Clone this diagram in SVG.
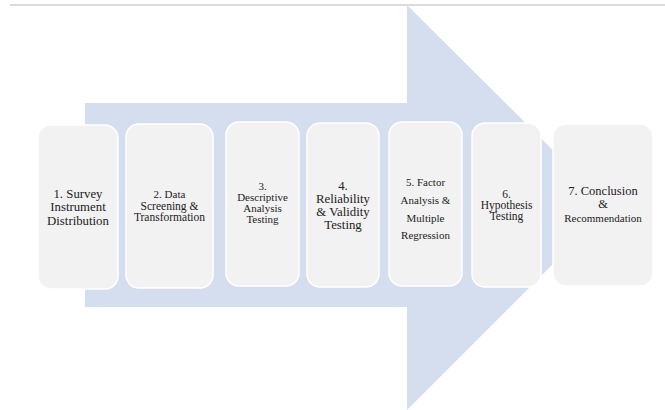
<svg xmlns="http://www.w3.org/2000/svg" width="665" height="410" viewBox="0 0 665 410">
  <style>
    .step { fill: #f2f2f2; stroke: #ffffff; stroke-width: 1.5; }
    .lbl { font-family: "Liberation Serif", "Times New Roman", serif; fill: #222222; text-anchor: middle; }
    .s13 { font-size: 12.8px; }
    .s12 { font-size: 12.5px; }
    .s11 { font-size: 11px; }
    .s115 { font-size: 11.5px; }
  </style>
  <rect width="665" height="410" fill="#ffffff"/>
  <!-- top rule -->
  <line x1="10" y1="5" x2="665" y2="5" stroke="#cfcfcf" stroke-width="1.5"/>
  <!-- big process arrow behind the steps -->
  <g id="connectors">
    <polygon points="85,103 407,103 407,5 610,207 407,410 407,307 85,307" fill="#d4deef"/>
  </g>
  <g id="step1">
    <rect class="step" x="38" y="125" width="80" height="164" rx="13"/>
    <text class="lbl s13" x="78" y="197.5">1. Survey</text>
    <text class="lbl s13" x="78" y="211">Instrument</text>
    <text class="lbl s13" x="78" y="224.5">Distribution</text>
  </g>
  <g id="step2">
    <rect class="step" x="126" y="124" width="87" height="164" rx="13"/>
    <text class="lbl s11" x="169.5" y="198">2. Data</text>
    <text class="lbl s115" x="169.5" y="210">Screening &amp;</text>
    <text class="lbl s115" x="169.5" y="221">Transformation</text>
  </g>
  <g id="step3">
    <rect class="step" x="226" y="122" width="73" height="164" rx="13"/>
    <text class="lbl s11" x="262.5" y="190">3.</text>
    <text class="lbl s11" x="262.5" y="201">Descriptive</text>
    <text class="lbl s11" x="262.5" y="212">Analysis</text>
    <text class="lbl s11" x="262.5" y="223">Testing</text>
  </g>
  <g id="step4">
    <rect class="step" x="307" y="123" width="72" height="164" rx="13"/>
    <text class="lbl s13" x="343" y="189.5">4.</text>
    <text class="lbl s13" x="343" y="202.5">Reliability</text>
    <text class="lbl s13" x="343" y="215.5">&amp; Validity</text>
    <text class="lbl s13" x="343" y="228.5">Testing</text>
  </g>
  <g id="step5">
    <rect class="step" x="389" y="122" width="73" height="164" rx="13"/>
    <text class="lbl s11" x="425.5" y="186">5. Factor</text>
    <text class="lbl s11" x="425.5" y="204">Analysis &amp;</text>
    <text class="lbl s11" x="425.5" y="222">Multiple</text>
    <text class="lbl s11" x="425.5" y="239">Regression</text>
  </g>
  <g id="step6">
    <rect class="step" x="472" y="123" width="69" height="164" rx="13"/>
    <text class="lbl s115" x="506.5" y="198">6.</text>
    <text class="lbl s115" x="506.5" y="209">Hypothesis</text>
    <text class="lbl s115" x="506.5" y="220">Testing</text>
  </g>
  <g id="step7">
    <rect class="step" x="553" y="124" width="100" height="162" rx="13"/>
    <text class="lbl s12" x="603" y="195">7. Conclusion</text>
    <text class="lbl s12" x="603" y="208">&amp;</text>
    <text class="lbl s11" x="603" y="222">Recommendation</text>
  </g>
</svg>
